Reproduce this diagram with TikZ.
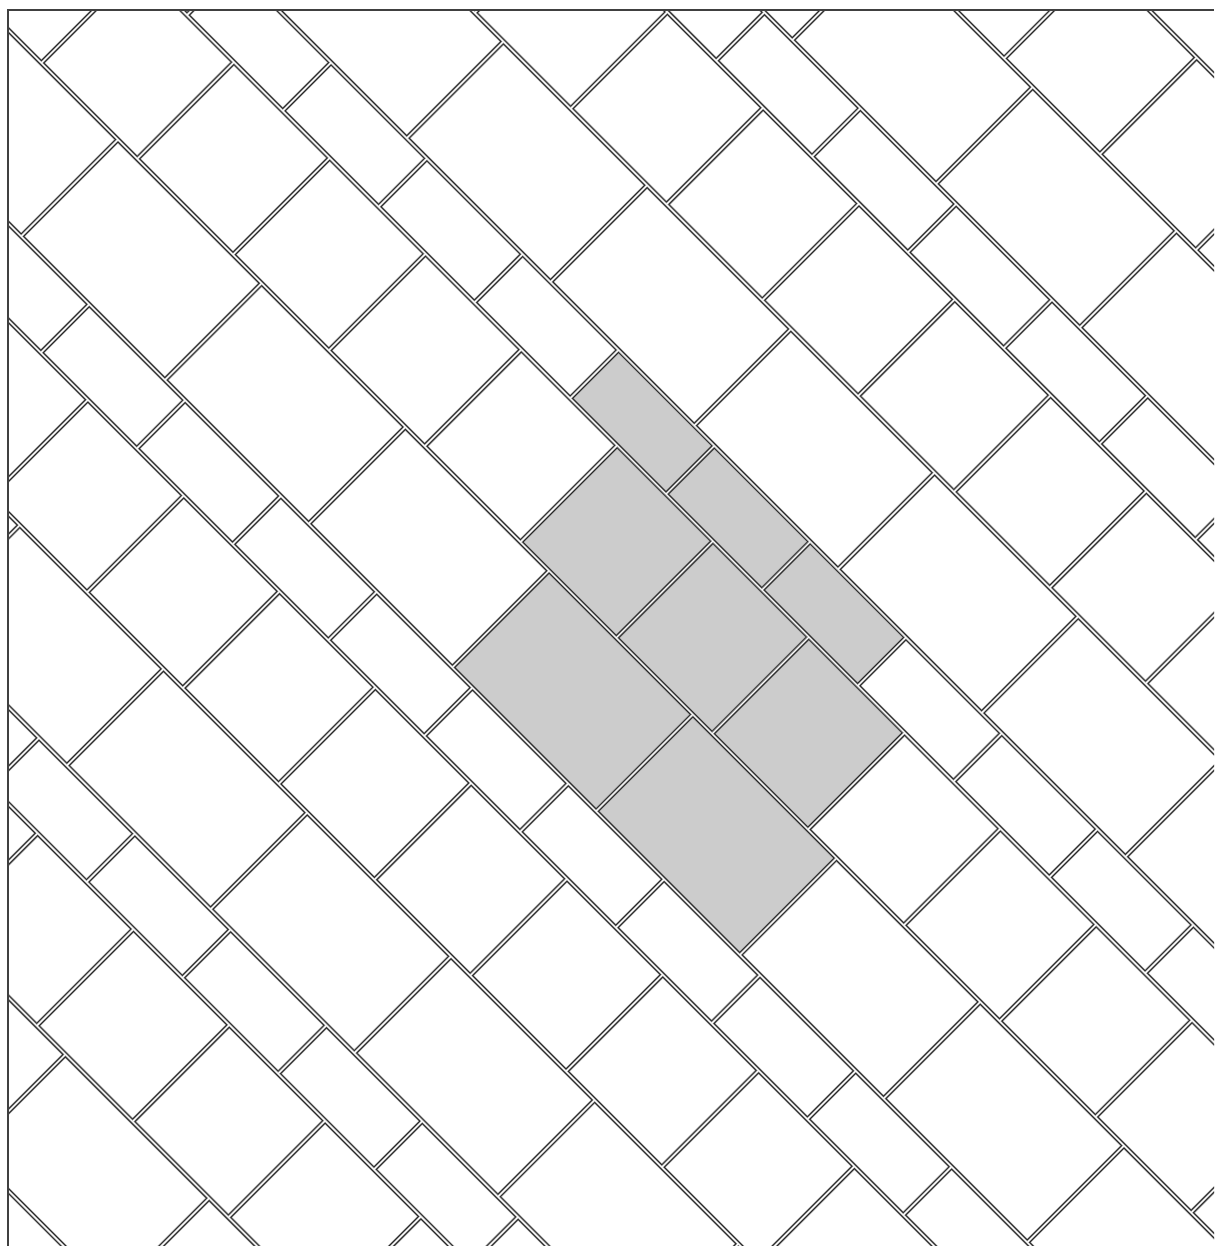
\documentclass[tikz,border=0pt]{standalone}
\begin{document}
\begin{tikzpicture}[x=0.5pt,y=-0.5pt]
\useasboundingbox (0,0) rectangle (1214,1246);
\fill[white] (0,0) rectangle (1214,1246);
\tikzset{
  tile/.style={fill=white, line join=miter,
    postaction={draw=black!35, line width=1.0pt, line join=miter},
    postaction={draw=black!85, line width=0.42pt, line join=miter}},
  hltile/.style={tile, fill=black!20},
  frameline/.style={draw=black!75, line width=0.8pt}
}
\def\g{1.7}
\newcommand\tilecell[5]{\path[#5] ({#1+\g},{#2+\g}) -- ({#3-\g},{#2+\g}) -- ({#3-\g},{#4-\g}) -- ({#1+\g},{#4-\g}) -- cycle;}
\begin{scope}
\clip (8,10) rectangle (1214,1246);
\begin{scope}[shift={(309.25pt,-175pt)}, x={(0.35355pt,-0.35355pt)}, y={(-0.35355pt,-0.35355pt)}]
\foreach \k in {-2,...,3}{
  \pgfmathsetmacro\ta{342*\k}
  \pgfmathsetmacro\tb{\ta+68.4}
  \pgfmathsetmacro\tc{\ta+205.2}
  \pgfmathsetmacro\td{\ta+342}
  \foreach \m in {-6,...,8}{
    \pgfmathsetmacro\sa{135.5*\m}
    \pgfmathsetmacro\sb{\sa+135.5}
    \tilecell{\sa}{\ta}{\sb}{\tb}{tile}
    \pgfmathsetmacro\qa{66.5+135.5*\m}
    \pgfmathsetmacro\qb{\qa+135.5}
    \tilecell{\qa}{\tb}{\qb}{\tc}{tile}
    \pgfmathsetmacro\la{107+203.25*\m}
    \pgfmathsetmacro\lb{\la+203.25}
    \tilecell{\la}{\tc}{\lb}{\td}{tile}
  }
}
% highlighted cluster
\foreach \m in {0,1,2}{
  \pgfmathsetmacro\sa{135.5*\m}
  \pgfmathsetmacro\sb{\sa+135.5}
  \tilecell{\sa}{0}{\sb}{68.4}{hltile}
  \pgfmathsetmacro\qa{66.5+135.5*\m}
  \pgfmathsetmacro\qb{\qa+135.5}
  \tilecell{\qa}{68.4}{\qb}{205.2}{hltile}
}
\foreach \m in {0,1}{
  \pgfmathsetmacro\la{107+203.25*\m}
  \pgfmathsetmacro\lb{\la+203.25}
  \tilecell{\la}{205.2}{\lb}{342}{hltile}
}
\end{scope}
\end{scope}
\coordinate (fb) at (8,1246);
\coordinate (fc) at (8,10);
\coordinate (fr) at (1214,10);
\draw[frameline] (fb) -- (fc) -- (fr);
\end{tikzpicture}
\end{document}
